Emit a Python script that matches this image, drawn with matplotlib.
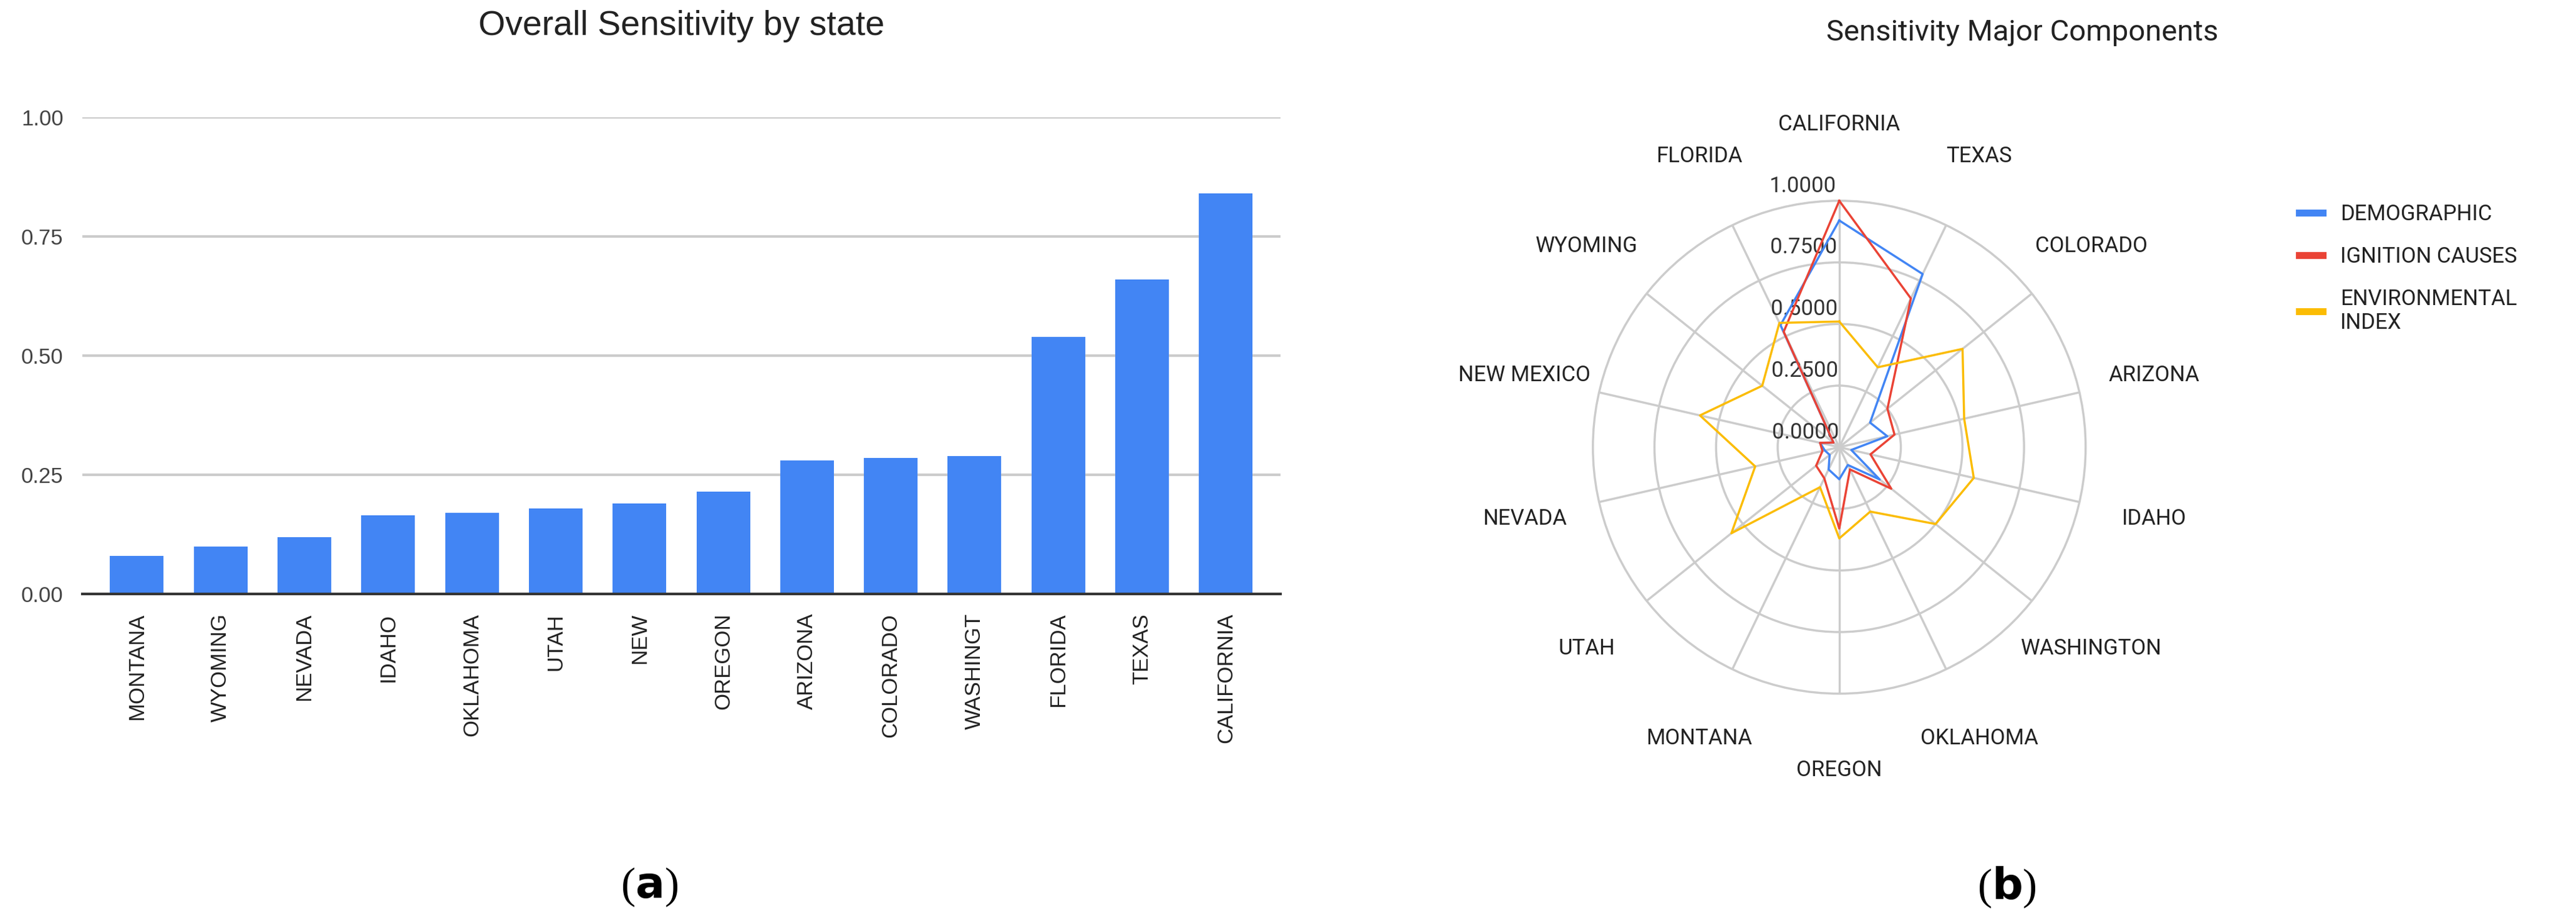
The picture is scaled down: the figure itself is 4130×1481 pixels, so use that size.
import numpy as np
import matplotlib.pyplot as plt
from matplotlib.lines import Line2D

# bar chart data
bar_states = ['MONTANA', 'WYOMING', 'NEVADA', 'IDAHO', 'OKLAHOMA', 'UTAH', 'NEW',
              'OREGON', 'ARIZONA', 'COLORADO', 'WASHINGT', 'FLORIDA', 'TEXAS', 'CALIFORNIA']
bar_values = [0.08, 0.10, 0.12, 0.165, 0.17, 0.18, 0.19, 0.215, 0.28, 0.285, 0.29, 0.54, 0.66, 0.84]
bar_ticks = [0.00, 0.25, 0.50, 0.75, 1.00]

# radar data (clockwise from top)
radar_states = ['CALIFORNIA', 'TEXAS', 'COLORADO', 'ARIZONA', 'IDAHO', 'WASHINGTON', 'OKLAHOMA',
                'OREGON', 'MONTANA', 'UTAH', 'NEVADA', 'NEW MEXICO', 'WYOMING', 'FLORIDA']
demographic = [0.92, 0.78, 0.16, 0.20, 0.05, 0.21, 0.08, 0.13, 0.10, 0.05, 0.06, 0.08, 0.03, 0.55]
ignition = [1.00, 0.67, 0.25, 0.23, 0.13, 0.27, 0.10, 0.33, 0.14, 0.12, 0.07, 0.08, 0.03, 0.52]
environmental = [0.51, 0.36, 0.64, 0.52, 0.56, 0.50, 0.29, 0.37, 0.18, 0.56, 0.35, 0.58, 0.40, 0.56]
radar_ticks = [0.0, 0.25, 0.5, 0.75, 1.0]

BLUE = '#4285f4'
RED = '#ea4335'
YELLOW = '#fbbc04'
GRID = '#cccccc'

fig = plt.figure(figsize=(41.3, 14.81), dpi=100)

# (a) bar chart
ax = fig.add_axes([0.032, 0.357, 0.465, 0.516])
x = np.arange(len(bar_states))
ax.bar(x, bar_values, width=0.64, color=BLUE, zorder=3)
ax.set_ylim(0, 1.0)
ax.set_xlim(-0.65, len(bar_states) - 0.35)
ax.set_yticks(bar_ticks)
ax.set_yticklabels([f'{t:.2f}' for t in bar_ticks], fontsize=25, color='#444444',
                   family='Liberation Sans')
ax.set_xticks(x)
ax.set_xticklabels(bar_states, rotation=90, fontsize=25, color='#222222',
                   family='Liberation Sans', va='top')
ax.tick_params(length=0, pad=22)
ax.grid(axis='y', color=GRID, linewidth=3, zorder=0)
for s in ['top', 'right', 'left']:
    ax.spines[s].set_visible(False)
ax.spines['bottom'].set_color('#333333')
ax.spines['bottom'].set_linewidth(3)
ax.spines['bottom'].set_zorder(4)
ax.set_title('Overall Sensitivity by state', fontsize=40, family='Liberation Sans',
             color='#222222', pad=95)

# (b) radar chart
R = 395
cx, cy = 0.714, 0.516
w, h = 2 * R / 4130, 2 * R / 1481
rax = fig.add_axes([cx - w / 2, cy - h / 2, w, h], projection='polar')
rax.set_theta_zero_location('N')
rax.set_theta_direction(-1)
n = len(radar_states)
theta = np.arange(n) * 2 * np.pi / n
rax.set_ylim(0, 1.0)
rax.set_thetagrids(np.degrees(theta), labels=[''] * n)
rax.set_rgrids([0.25, 0.5, 0.75], labels=[])
rax.grid(color=GRID, linewidth=2.5)
rax.spines['polar'].set_color(GRID)
rax.spines['polar'].set_linewidth(2.5)
rax.set_facecolor('none')

tc = np.append(theta, theta[0])
for vals, col, lab in [(demographic, BLUE, 'DEMOGRAPHIC'),
                       (ignition, RED, 'IGNITION CAUSES'),
                       (environmental, YELLOW, 'ENVIRONMENTAL\nINDEX')]:
    rax.plot(tc, np.append(vals, vals[0]), color=col, linewidth=2.5, zorder=3, clip_on=False)

for t, s in zip(theta, radar_states):
    rax.text(t, 1.31, s, ha='center', va='center', fontsize=25, family='Roboto',
             color='#222222')
for v in radar_ticks:
    rax.text(-0.012, v + 0.06, f'{v:.4f}', ha='right', va='center', fontsize=25,
             family='Roboto', color='#333333', zorder=2)

fig.text(0.785, 0.965, 'Sensitivity Major Components', ha='center', va='center',
         fontsize=34, family='Roboto', color='#222222')

handles = [Line2D([], [], color=BLUE, linewidth=8),
           Line2D([], [], color=RED, linewidth=8),
           Line2D([], [], color=YELLOW, linewidth=8)]
fig.legend(handles, ['DEMOGRAPHIC', 'IGNITION CAUSES', 'ENVIRONMENTAL\nINDEX'],
           loc='upper left', bbox_to_anchor=(0.885, 0.80), frameon=False,
           prop={'family': 'Roboto', 'size': 25}, handlelength=1.1,
           labelspacing=1.0, handletextpad=0.8, labelcolor='#222222')

fig.text(0.252, 0.04, r'($\mathbf{a}$)', ha='center', va='center', fontsize=50,
         family='Liberation Serif')
fig.text(0.779, 0.04, r'($\mathbf{b}$)', ha='center', va='center', fontsize=50,
         family='Liberation Serif')

fig.savefig('out.png', dpi=100, facecolor='white')
